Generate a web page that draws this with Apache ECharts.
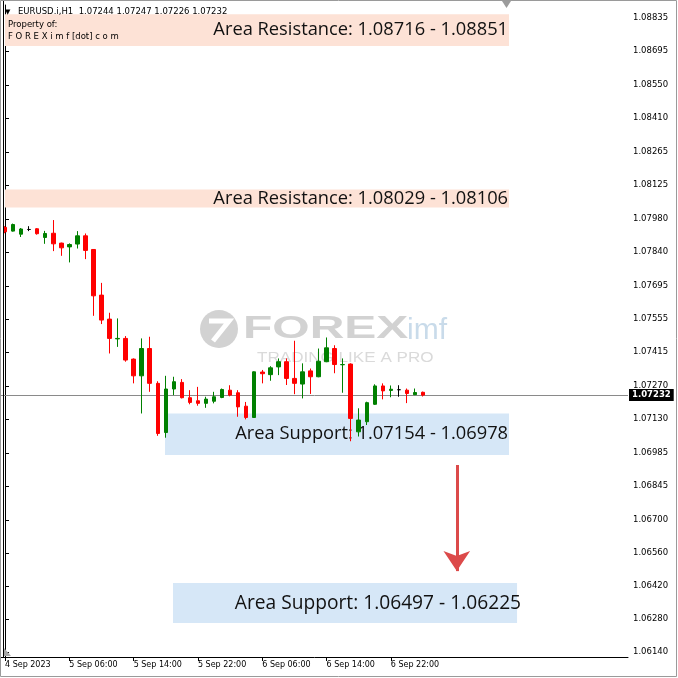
<!DOCTYPE html>
<html><head><meta charset="utf-8">
<script src="https://cdn.jsdelivr.net/npm/echarts@6/dist/echarts.min.js"></script>
<style>html,body{margin:0;padding:0;background:#fff}#c{width:678px;height:678px}</style>
</head><body><div id="c"></div>
<script>
// ---------- data ----------
const symbolName = 'EURUSD.i,H1';
const xLabels = ['4 Sep 2023','5 Sep 06:00','5 Sep 14:00','5 Sep 22:00','6 Sep 06:00','6 Sep 14:00','6 Sep 22:00'];
const barsPerLabel = 8;
const slotCount = 78;
const opens  = [1.07945,1.07929,1.07916,1.07936,1.07939,1.07902,1.07920,1.07878,1.07862,1.07874,1.07909,1.07851,1.07657,1.07555,1.07471,1.07473,1.07385,1.07314,1.07430,1.07282,1.07073,1.07258,1.07286,1.07221,1.07208,1.07197,1.07206,1.07222,1.07253,1.07242,1.07185,1.07137,1.07330,1.07319,1.07352,1.07374,1.07303,1.07279,1.07335,1.07310,1.07374,1.07430,1.07361,1.07364,1.07076,1.07119,1.07193,1.07271,1.07252,1.07255,1.07253,1.07234,1.07244];
const closes = [1.07926,1.07957,1.07938,1.07936,1.07918,1.07919,1.07875,1.07858,1.07872,1.07909,1.07847,1.07654,1.07551,1.07473,1.07473,1.07381,1.07314,1.07430,1.07282,1.07069,1.07258,1.07289,1.07221,1.07201,1.07197,1.07215,1.07225,1.07256,1.07232,1.07182,1.07137,1.07331,1.07323,1.07348,1.07374,1.07303,1.07282,1.07331,1.07310,1.07376,1.07433,1.07362,1.07362,1.07133,1.07126,1.07200,1.07271,1.07250,1.07257,1.07255,1.07239,1.07243,1.07232];
const highs  = [1.07950,1.07961,1.07942,1.07950,1.07942,1.07930,1.07976,1.07880,1.07877,1.07929,1.07919,1.07853,1.07709,1.07582,1.07558,1.07483,1.07388,1.07473,1.07480,1.07291,1.07314,1.07310,1.07300,1.07253,1.07267,1.07225,1.07246,1.07260,1.07274,1.07253,1.07203,1.07333,1.07339,1.07355,1.07388,1.07388,1.07463,1.07367,1.07345,1.07430,1.07477,1.07444,1.07388,1.07367,1.07176,1.07204,1.07278,1.07282,1.07273,1.07274,1.07260,1.07260,1.07247];
const lows   = [1.07920,1.07927,1.07904,1.07929,1.07914,1.07875,1.07844,1.07824,1.07796,1.07855,1.07810,1.07569,1.07534,1.07409,1.07437,1.07374,1.07282,1.07154,1.07246,1.07059,1.07051,1.07232,1.07218,1.07193,1.07187,1.07178,1.07197,1.07219,1.07227,1.07140,1.07129,1.07136,1.07282,1.07293,1.07317,1.07275,1.07236,1.07218,1.07237,1.07308,1.07372,1.07325,1.07242,1.07036,1.07056,1.07105,1.07190,1.07214,1.07223,1.07225,1.07198,1.07232,1.07226];
const yTicks = [1.08835,1.08695,1.08550,1.08410,1.08265,1.08125,1.07980,1.07840,1.07695,1.07555,1.07415,1.07270,1.07130,1.06985,1.06845,1.06700,1.06560,1.06420,1.06280,1.06140];
const yMin = 1.06119, yMax = 1.08890;
const currentPrice = 1.07232;
// zones: label, [x from, x to] in bar slots, [y low, y high]
const zoneLabels = ['Area Resistance: 1.08716 - 1.08851','Area Resistance: 1.08029 - 1.08106','Area Support: 1.07154 - 1.06978','Area Support: 1.06497 - 1.06225'];
const zoneKinds  = ['res','res','sup','sup'];
const zoneX = [[0,62.7],[0,62.7],[19.9,62.7],[20.9,63.7]];
const zoneY = [[1.08716,1.08851],[1.08029,1.08106],[1.06978,1.07154],[1.06263,1.06433]];
const arrowX = 56.2;
const arrowY = [1.06935, 1.06484];

// ---------- chart ----------
const chart = echarts.init(document.getElementById('c'), null, {renderer:'canvas'});
const nBars = opens.length;
const cats = Array.from({length: slotCount}, (_, i) => 'c' + i);
const candles = opens.map((o, i) => [o, closes[i], lows[i], highs[i]]);
const showIdx = (i) => i % barsPerLabel === 0 && i < nBars && (i / barsPerLabel) < xLabels.length;
const fmt5 = v => Number(v).toFixed(5);
const last = nBars - 1;
const headerText = symbolName + '  ' + [opens[last], highs[last], lows[last], closes[last]].map(fmt5).join(' ');

const zoneColors = {res: '#fde2d6', sup: '#d6e7f7'};
const markAreaData = zoneLabels.map((lab, k) => [
  {xAxis: zoneX[k][0], yAxis: zoneY[k][1], name: lab,
   itemStyle: {color: zoneColors[zoneKinds[k]]},
   label: {show: true, position: 'insideRight', distance: 1, offset: k === 3 ? [5, 0] : [0, 0],
           formatter: lab, color: '#111', fontSize: k === 3 ? 19.2 : 18.3, fontFamily: 'Open Sans'}},
  {xAxis: zoneX[k][1], yAxis: zoneY[k][0]}
]);

const option = {
  animation: false,
  backgroundColor: '#ffffff',
  grid: {left: 1, right: 50, top: 5, bottom: 21, containLabel: false},
  xAxis: [
    {type: 'category', data: cats, boundaryGap: true,
     axisLine: {show: true, lineStyle: {color: '#000', width: 1}},
     axisTick: {show: true, alignWithLabel: true, length: 4, interval: (i) => showIdx(i), lineStyle: {color: '#000'}},
     axisLabel: {interval: (i) => showIdx(i), align: 'left', margin: 4, color: '#000', fontSize: 8, fontFamily: 'DejaVu Sans',
       formatter: (v) => { const i = parseInt(String(v).slice(1)); return showIdx(i) ? xLabels[i / barsPerLabel] : ''; }},
     splitLine: {show: false}},
    {type: 'value', min: -0.5, max: slotCount - 0.5, show: false}
  ],
  yAxis: [{
    type: 'value', position: 'right', min: yMin, max: yMax, scale: true,
    axisLine: {show: true, lineStyle: {color: '#000', width: 1}},
    axisTick: {show: true, length: 4, customValues: yTicks, lineStyle: {color: '#000'}},
    axisLabel: {customValues: yTicks, formatter: fmt5, margin: 5, color: '#000', fontSize: 8.5, fontFamily: 'DejaVu Sans'},
    splitLine: {show: false}
  }],
  series: [
    {type: 'line', xAxisIndex: 1, yAxisIndex: 0, data: [], z: 1, silent: true,
     markArea: {silent: true, data: markAreaData},
     markLine: {silent: true, symbol: ['none', 'arrow'], symbolSize: [20, 20],
       lineStyle: {color: '#dc4a4a', width: 3, type: 'solid'}, label: {show: false},
       data: [[{coord: [arrowX, arrowY[0]]}, {coord: [arrowX, arrowY[1]]}]]}},
    {type: 'line', xAxisIndex: 1, yAxisIndex: 0, data: [], z: 8, silent: true,
     markLine: {silent: true, symbol: ['none', 'none'],
       lineStyle: {color: '#8a8a8a', width: 1, type: 'solid'},
       label: {show: true, position: 'end', formatter: fmt5(currentPrice), color: '#fff', backgroundColor: '#000',
               padding: [2, 3, 1, 3], fontSize: 8.5, fontWeight: 'bold', fontFamily: 'DejaVu Sans', distance: 1},
       data: [[{coord: [-0.5, currentPrice]}, {coord: [slotCount - 0.5, currentPrice]}]]}},
    {type: 'candlestick', xAxisIndex: 0, yAxisIndex: 0, data: candles, z: 5, barWidth: 4, silent: true,
     itemStyle: {color: '#008000', color0: '#ff0000', borderColor: '#008000', borderColor0: '#ff0000', borderColorDoji: '#000000', borderWidth: 1}}
  ],
  graphic: [
    // window frame
    {type: 'rect', shape: {x: 0.5, y: 0.5, width: 676, height: 676}, style: {fill: 'none', stroke: '#9a9a9a', lineWidth: 1}, z: 50, silent: true},
    {type: 'line', shape: {x1: 3.5, y1: 1, x2: 3.5, y2: 657}, style: {stroke: '#000', lineWidth: 1}, z: 50, silent: true},
    // chart shift markers
    {type: 'polygon', shape: {points: [[502, 1], [511, 1], [506.5, 8]]}, style: {fill: '#9c9c9c'}, z: 50, silent: true},
    {type: 'polygon', shape: {points: [[4, 648], [4, 656], [11, 656]]}, style: {fill: '#a8a8a8'}, z: 50, silent: true},
    // watermark
    {type: 'circle', shape: {cx: 219, cy: 329, r: 19}, style: {fill: '#d2d2d2'}, z: 0, silent: true},
    {type: 'polyline', shape: {points: [[209, 321], [229, 321], [213, 341]]}, style: {stroke: '#fff', lineWidth: 5, fill: 'none'}, z: 0, silent: true},
    {type: 'text', x: 243, y: 329, scaleX: 1.5, originX: 0, originY: 0,
     style: {text: 'FOREX', fill: '#d2d2d2', font: 'bold 32px "Liberation Sans"', verticalAlign: 'middle'}, z: 0, silent: true},
    {type: 'text', x: 407, y: 331,
     style: {text: 'imf', fill: '#c9dbea', font: '30px "Liberation Sans"', verticalAlign: 'middle'}, z: 0, silent: true},
    {type: 'text', x: 257, y: 358, scaleX: 1.22, originX: 0, originY: 0,
     style: {text: 'TRADING LIKE A PRO', fill: '#dadada', font: '14px "Liberation Sans"', verticalAlign: 'middle'}, z: 0, silent: true},
    // header
    {type: 'text', x: 5, y: 12, style: {text: '\u25BC', fill: '#000', font: '7px "DejaVu Sans"', verticalAlign: 'middle'}, z: 60, silent: true},
    {type: 'text', x: 18, y: 12, style: {text: headerText, fill: '#000', font: '8.5px "DejaVu Sans"', verticalAlign: 'middle'}, z: 60, silent: true},
    {type: 'text', x: 8, y: 25, style: {text: 'Property of:', fill: '#000', font: '8.5px "DejaVu Sans"', verticalAlign: 'middle'}, z: 60, silent: true},
    {type: 'text', x: 8, y: 37, style: {text: 'F O R E X i m f [dot] c o m', fill: '#000', font: '8.5px "DejaVu Sans"', verticalAlign: 'middle'}, z: 60, silent: true}
  ]
};
chart.setOption(option);
</script>
</body></html>
